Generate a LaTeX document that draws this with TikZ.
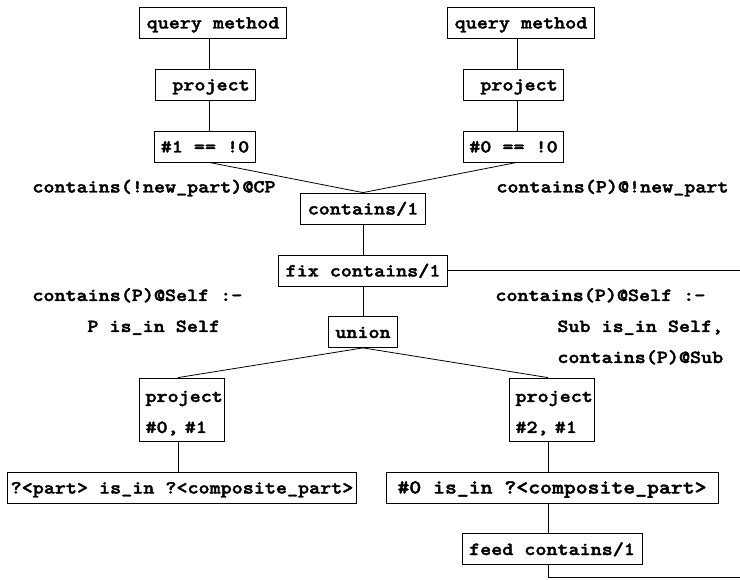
\documentclass[tikz,border=0pt]{standalone}
\usepackage{fontspec}
\newfontfamily\codefont{lmmonolt10-bold.otf}[FakeStretch=1.138, FakeBold=2]
\usetikzlibrary{calc}

\begin{document}
\begin{tikzpicture}[x=1pt, y=-1pt, line width=0.8pt,
	op/.style={draw, font=\codefont\fontsize{18.5}{31}\selectfont, inner xsep=7pt, inner ysep=0pt, minimum height=31pt, text height=14pt, text depth=2pt},
	optwo/.style={op, align=left, text width=72pt, inner xsep=6.5pt, text height=18pt, text depth=33pt, minimum height=63pt},
	rule/.style={font=\codefont\fontsize{18.5}{31}\selectfont, inner sep=0pt, anchor=base west}]
	\useasboundingbox (0,0) rectangle (740,580);
	
	\coordinate (cL) at (209,0);
	\coordinate (cR) at (517,0);
	\coordinate (cPL) at (178,0);
	\coordinate (cPR) at (548,0);
	\coordinate (fixout) at (740,270.5);
	\coordinate (feedout) at (740,577);
	
	\node[op] (qm1) at (213,22.5) {query method};
	\node[op, inner xsep=6pt] (pr1) at (205.5,84.5) {\ project};
	\node[op, inner xsep=6pt] (eq1) at (205,146.5) {\#1 == !0};
	
	\node[op] (qm2) at (521,22.5) {query method};
	\node[op, inner xsep=6pt] (pr2) at (513.5,84.5) {\ project};
	\node[op, inner xsep=6pt] (eq2) at (513.5,146.5) {\#0 == !0};
	
	\node[op] (c1) at (363,208.5) {contains/1};
	\node[op] (fix) at (363,270.5) {fix contains/1};
	\node[op] (un) at (363,332) {union};
	
	\node[optwo] (pl) at (181.5,409.5) {project\\\#0, \#1};
	\node[optwo] (pr) at (551.5,409.5) {project\\\#2, \#1};
	
	\node[op, inner xsep=3pt] (ql) at (182,487.5) {?<part> is\_in ?<composite\_part>};
	\node[op, inner xsep=11.5pt, font=\codefont\fontsize{19.9}{31}\selectfont] (qr) at (552,487.5) {\#0 is\_in ?<composite\_part>};
	\node[op] (fd) at (552,549) {feed contains/1};
	
	\node[rule] (lblL) at (32,192.5) {contains(!new\_part)@CP};
	\node[rule] (lblR) at (496,192.5) {contains(P)@!new\_part};
	\node[rule] (ruleL) at (32,301) {contains(P)@Self :-};
	\node[rule] (ruleLb) at (87,332) {P is\_in Self};
	\node[rule] (ruleR) at (495,301) {contains(P)@Self :-};
	\node[rule] (ruleRb) at (557,332) {Sub is\_in Self,};
	\node[rule] (ruleRc) at (557,363) {contains(P)@Sub};
	
	\draw (qm1.south -| cL) -- (pr1.north -| cL);
	\draw (pr1.south -| cL) -- (eq1.north -| cL);
	\draw (eq1.south -| cL) -- (c1.north);
	\draw (qm2.south -| cR) -- (pr2.north -| cR);
	\draw (pr2.south -| cR) -- (eq2.north -| cR);
	\draw (eq2.south -| cR) -- (c1.north);
	
	\draw (c1) -- (fix);
	\draw (fix) -- (un);
	\draw (fix.east) -- (fixout);
	\draw (un.south) -- (pl.north -| cPL);
	\draw (un.south) -- (pr.north -| cPR);
	
	\draw (pl.south -| cPL) -- (ql.north -| cPL);
	\draw (pr.south -| cPR) -- (qr.north -| cPR);
	\draw (qr.south -| cPR) -- (fd.north -| cPR);
	\draw (fd.south -| cPR) |- (feedout);
\end{tikzpicture}
\end{document}
